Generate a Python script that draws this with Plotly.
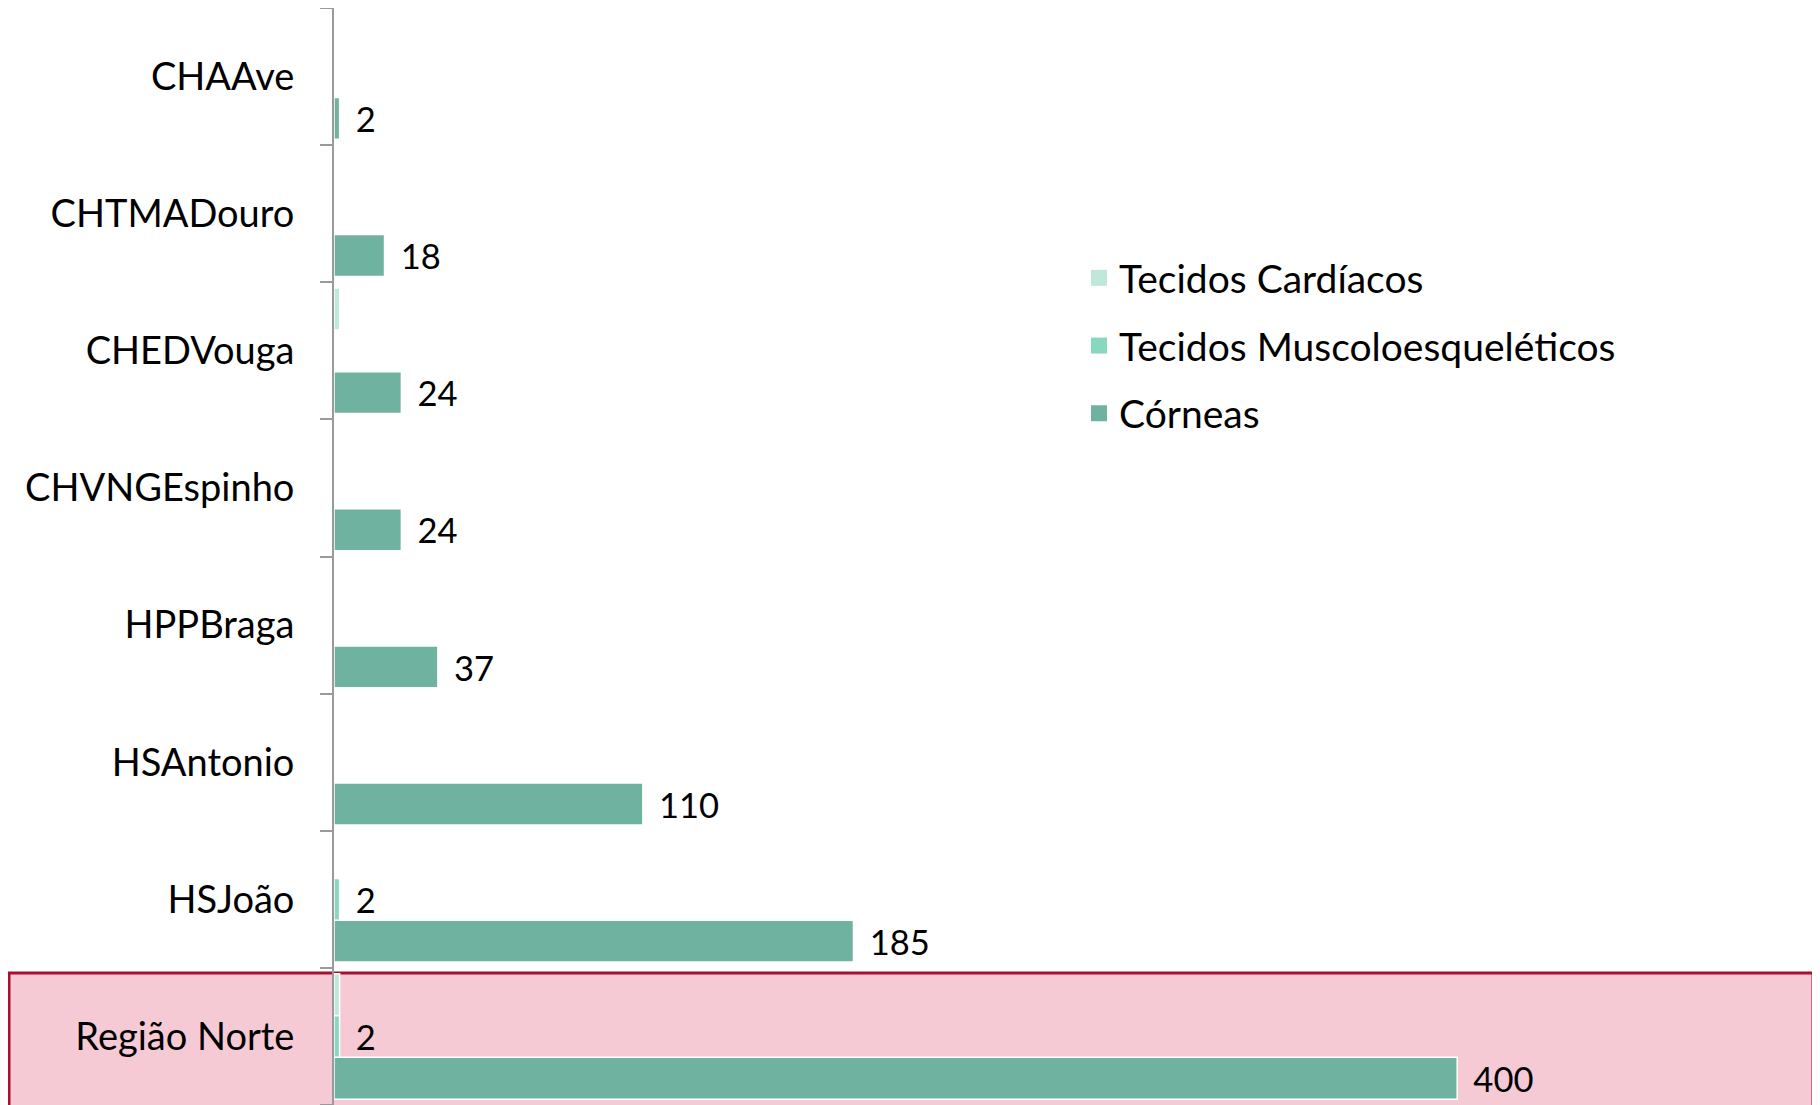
import plotly.graph_objects as go

# Categories listed bottom-first (plot y axis increases upward)
categories = ["Região Norte", "HSJoão", "HSAntonio", "HPPBraga",
              "CHVNGEspinho", "CHEDVouga", "CHTMADouro", "CHAAve"]
corneas = [400, 185, 110, 37, 24, 24, 18, 2]
musculo = [2, 2, 0, 0, 0, 0, 0, 0]
cardiacos = [2, 0, 0, 0, 0, 2, 0, 0]

series_names = ["Córneas", "Tecidos Muscoloesqueléticos", "Tecidos Cardíacos"]
colors = ["#70B2A0", "#88D8C0", "#BDE8DA"]

FONT = "Lato, 'Open Sans', sans-serif"
FS = 38
LFS = 39

def labels(vals):
    return [" \u2009" + str(v) if v else "" for v in vals]

fig = go.Figure()
series = [corneas, musculo, cardiacos]
show_text = [True, True, False]
for vals, name, col, st in zip(series, series_names, colors, show_text):
    fig.add_trace(go.Bar(y=categories, x=vals, orientation="h", name=name,
                         marker=dict(color=col, line=dict(color="white", width=1.5)),
                         text=labels(vals) if st else None,
                         textposition="outside", cliponaxis=False,
                         textfont=dict(size=FS, color="black", family=FONT),
                         showlegend=False))

# legend entries (square swatches), top to bottom: Cardíacos, Muscolo, Córneas
for name, col, grp in zip(series_names[::-1], colors[::-1], ["a", "b", "c"]):
    fig.add_trace(go.Scatter(x=[None], y=[None], mode="markers", name=name,
                             marker=dict(symbol="square", size=20, color=col),
                             legendgroup=grp, showlegend=True))

OFF = 8  # page body offset
L, R, T, B = 326, 90, 0, 8
W, H = 1820, 1105
pw, ph = W - L - R, H - T - B

def px_x(xpage):
    return (xpage - OFF - L) / pw

def px_y(ypage):
    return 1 - (ypage - OFF - T) / ph

fig.add_shape(type="rect", xref="paper", yref="paper",
              x0=px_x(9), x1=px_x(1813), y0=px_y(1125), y1=px_y(973),
              fillcolor="#F6CAD5", line=dict(color="#A8102C", width=3), layer="below")

fig.update_layout(
    width=W, height=H,
    margin=dict(l=L, r=R, t=T, b=B),
    paper_bgcolor="white", plot_bgcolor="rgba(0,0,0,0)",
    barmode="group", bargap=0.085, bargroupgap=0,
    font=dict(family=FONT, size=FS, color="black"),
    showlegend=True,
    legend=dict(x=px_x(1079), y=px_y(246), xanchor="left", yanchor="top",
                traceorder="grouped", tracegroupgap=14,
                font=dict(size=LFS, family=FONT, color="black"),
                bgcolor="rgba(0,0,0,0)", itemwidth=30),
    xaxis=dict(range=[0, 500], visible=False, showgrid=False, zeroline=False),
    yaxis=dict(type="category", showgrid=False, zeroline=False,
               showline=True, linecolor="#9A9A9A", linewidth=2,
               ticks="outside", ticklen=12, tickcolor="#9A9A9A", tickwidth=2,
               tickson="boundaries", ticklabelstandoff=30,
               tickfont=dict(size=FS, family=FONT, color="black")),
)

fig.write_html("out.html")
